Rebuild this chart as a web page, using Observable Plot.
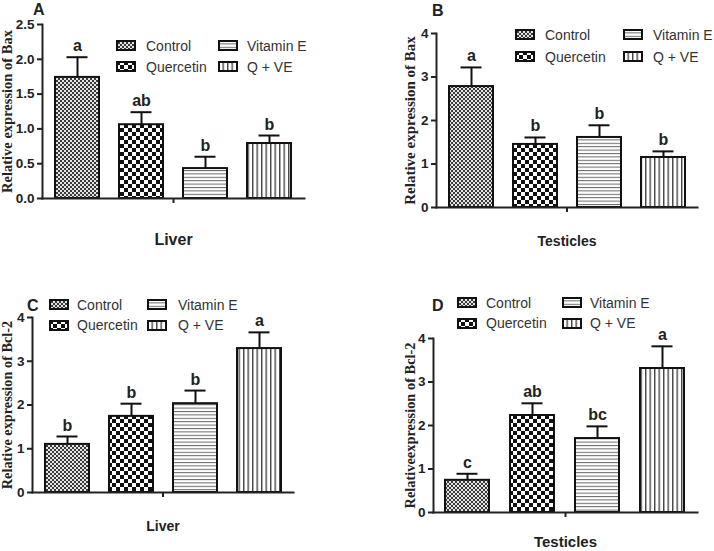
<!DOCTYPE html>
<html><head><meta charset="utf-8">
<script src="https://cdn.jsdelivr.net/npm/d3@7"></script>
<script src="https://cdn.jsdelivr.net/npm/@observablehq/plot@0.6"></script>
<style>
body{margin:0;background:#fff;}
#fig{position:relative;width:714px;height:551px;overflow:hidden;font-family:Arial,"Liberation Sans",sans-serif;}
.panel{position:absolute;}
.letter{position:absolute;font-weight:bold;font-size:16px;line-height:16px;color:#222;}
.sw{position:absolute;}
.lt{position:absolute;font-size:14px;line-height:16px;color:#333;white-space:nowrap;}
</style></head><body>
<svg width="0" height="0" style="position:absolute">
<defs>
<pattern id="pCtrl" width="4" height="4" patternUnits="userSpaceOnUse"><rect width="4" height="4" fill="#e4e4e4"/><rect width="2" height="2" fill="#3a3a3a"/><rect x="2" y="2" width="2" height="2" fill="#3a3a3a"/></pattern>
<pattern id="pQuer" width="8" height="8" patternUnits="userSpaceOnUse"><rect width="8" height="8" fill="#fff"/><rect width="4" height="4" fill="#111"/><rect x="4" y="4" width="4" height="4" fill="#111"/></pattern>
<pattern id="pVitE" width="4" height="3.4" patternUnits="userSpaceOnUse"><rect width="4" height="3.4" fill="#fff"/><rect width="4" height="1" fill="#666"/></pattern>
<pattern id="pQVE" width="4.5" height="4" patternUnits="userSpaceOnUse"><rect width="4.5" height="4" fill="#fff"/><rect width="1.4" height="4" fill="#444"/></pattern>
</defs>
</svg>
<div id="fig"></div>
<script>
// ---- data ----
const treatments = ["Control", "Quercetin", "Vitamin E", "Q + VE"];
const patternUrls = ["url(#pCtrl)", "url(#pQuer)", "url(#pVitE)", "url(#pQVE)"];

const baxLiverMean = [1.74, 1.06, 0.43, 0.79];
const baxLiverSem = [0.29, 0.18, 0.17, 0.115];
const baxLiverLetters = ["a", "ab", "b", "b"];

const baxTestesMean = [2.78, 1.45, 1.61, 1.15];
const baxTestesSem = [0.44, 0.16, 0.28, 0.14];
const baxTestesLetters = ["a", "b", "b", "b"];

const bclLiverMean = [1.10, 1.74, 2.03, 3.29];
const bclLiverSem = [0.18, 0.29, 0.30, 0.37];
const bclLiverLetters = ["b", "b", "b", "a"];

const bclTestesMean = [0.74, 2.23, 1.70, 3.31];
const bclTestesSem = [0.15, 0.28, 0.28, 0.51];
const bclTestesLetters = ["c", "ab", "bc", "a"];

const ticksA = [0, 0.5, 1.0, 1.5, 2.0, 2.5];
const ticksBCD = [0, 1, 2, 3, 4];

// ---- layout ----
const panels = [
  {id:"A", tissue:"Liver", mean:baxLiverMean, sem:baxLiverSem, letters:baxLiverLetters,
   ymax:2.5, ticks:ticksA, fmt:d3.format(".1f"), ylabel:"Relative expression of Bax",
   left:0, top:0, w:357, h:275, ml:42, mr:53, mt:24, mb:77, pad:30, fs:16, ydx:-35, yfs:14.5,
   letterPos:[33,2], leg:{s1:116, t1:146, s2:218, t2:247, y1:45.5, y2:66.5}},
  {id:"B", tissue:"Testicles", mean:baxTestesMean, sem:baxTestesSem, letters:baxTestesLetters,
   ymax:4, ticks:ticksBCD, fmt:d3.format("d"), ylabel:"Relative expression of Bax",
   left:357, top:0, w:357, h:275, ml:79, mr:17, mt:33, mb:68, pad:24, fs:14, ydx:-26, yfs:15,
   letterPos:[432,3], leg:{s1:515, t1:545, s2:623, t2:653, y1:34.5, y2:56.5}},
  {id:"C", tissue:"Liver", mean:bclLiverMean, sem:bclLiverSem, letters:bclLiverLetters,
   ymax:4, ticks:ticksBCD, fmt:d3.format("d"), ylabel:"Relative expression of Bcl-2",
   left:0, top:275, w:357, h:276, ml:32, mr:64, mt:42, mb:59, pad:24, fs:14, ydx:-25, yfs:14.3,
   letterPos:[27,298], leg:{s1:49, t1:77, s2:147, t2:178, y1:304.5, y2:325}},
  {id:"D", tissue:"Testicles", mean:bclTestesMean, sem:bclTestesSem, letters:bclTestesLetters,
   ymax:4, ticks:ticksBCD, fmt:d3.format("d"), ylabel:"Relativeexpression of Bcl-2",
   left:357, top:275, w:357, h:276, ml:76, mr:17, mt:63, mb:39, pad:19, fs:15, ydx:-23, yfs:14.4,
   letterPos:[432,298], leg:{s1:457, t1:486, s2:562, t2:590, y1:302.5, y2:323}}
];

const fig = document.getElementById("fig");

function makePanel(cfg) {
  const rows = treatments.map((t, i) => ({
    tissue: cfg.tissue, treatment: t, mean: cfg.mean[i],
    top: cfg.mean[i] + cfg.sem[i], letter: cfg.letters[i]
  }));
  const svg = Plot.plot({
    width: cfg.w, height: cfg.h,
    marginLeft: cfg.ml, marginRight: cfg.mr, marginTop: cfg.mt, marginBottom: cfg.mb,
    style: {fontFamily: "Arial, 'Liberation Sans', sans-serif", color: "#222", background: "transparent", overflow: "visible"},
    fx: {domain: [cfg.tissue], padding: 0},
    x: {domain: treatments, paddingInner: 0.32, paddingOuter: 0.18, axis: null},
    y: {domain: [0, cfg.ymax]},
    color: {domain: treatments, range: patternUrls},
    marks: [
      Plot.ruleX(rows, {fx: "tissue", x: "treatment", y1: "mean", y2: "top", stroke: "#111", strokeWidth: 2}),
      Plot.tickY(rows, {fx: "tissue", x: "treatment", y: "top", stroke: "#111", strokeWidth: 2, inset: 11.5}),
      Plot.barY(rows, {fx: "tissue", x: "treatment", y: "mean", fill: "treatment", stroke: "#111", strokeWidth: 2}),
      Plot.text(rows, {fx: "tissue", x: "treatment", y: "top", text: "letter", dy: -6, lineAnchor: "bottom",
        fontWeight: "bold", fontSize: 16, fill: "#222"}),
      Plot.frame({anchor: "left", stroke: "#222", strokeWidth: 2}),
      Plot.frame({anchor: "bottom", stroke: "#222", strokeWidth: 2}),
      Plot.axisY({ticks: cfg.ticks, tickFormat: cfg.fmt, tickSize: 5, tickPadding: 3, strokeWidth: 2,
        fontWeight: "bold", fontSize: 13.5, label: null}),
      Plot.axisFx({anchor: "bottom", tickSize: 5, tickPadding: cfg.pad, strokeWidth: 2,
        fontSize: cfg.fs, fontWeight: "bold", label: null}),
      Plot.text([cfg.ylabel], {frameAnchor: "left", textAnchor: "middle", lineAnchor: "middle",
        rotate: -90, dx: cfg.ydx,
        fontFamily: "'Liberation Serif', 'Times New Roman', serif", fontWeight: "bold",
        fontSize: cfg.yfs, fill: "#222"})
    ]
  });
  svg.classList.add("panel");
  svg.style.left = cfg.left + "px";
  svg.style.top = cfg.top + "px";
  fig.appendChild(svg);

  const L = document.createElement("div");
  L.className = "letter";
  L.textContent = cfg.id;
  L.style.left = cfg.letterPos[0] + "px";
  L.style.top = cfg.letterPos[1] + "px";
  fig.appendChild(L);

  const g = cfg.leg;
  const items = [
    [0, g.s1, g.t1, g.y1], [1, g.s1, g.t1, g.y2],
    [2, g.s2, g.t2, g.y1], [3, g.s2, g.t2, g.y2]
  ];
  for (const [i, sx, tx, cy] of items) {
    const ns = "http://www.w3.org/2000/svg";
    const s = document.createElementNS(ns, "svg");
    s.setAttribute("width", 20); s.setAttribute("height", 11);
    s.setAttribute("class", "sw");
    s.style.left = sx + "px"; s.style.top = (cy - 5.5) + "px";
    const r = document.createElementNS(ns, "rect");
    r.setAttribute("x", 1); r.setAttribute("y", 1); r.setAttribute("width", 18); r.setAttribute("height", 9);
    r.setAttribute("fill", patternUrls[i]); r.setAttribute("stroke", "#111"); r.setAttribute("stroke-width", 2);
    s.appendChild(r);
    fig.appendChild(s);
    const t = document.createElement("div");
    t.className = "lt";
    t.textContent = treatments[i];
    t.style.left = tx + "px"; t.style.top = (cy - 8) + "px";
    fig.appendChild(t);
  }
}
panels.forEach(makePanel);
</script>
</body></html>
